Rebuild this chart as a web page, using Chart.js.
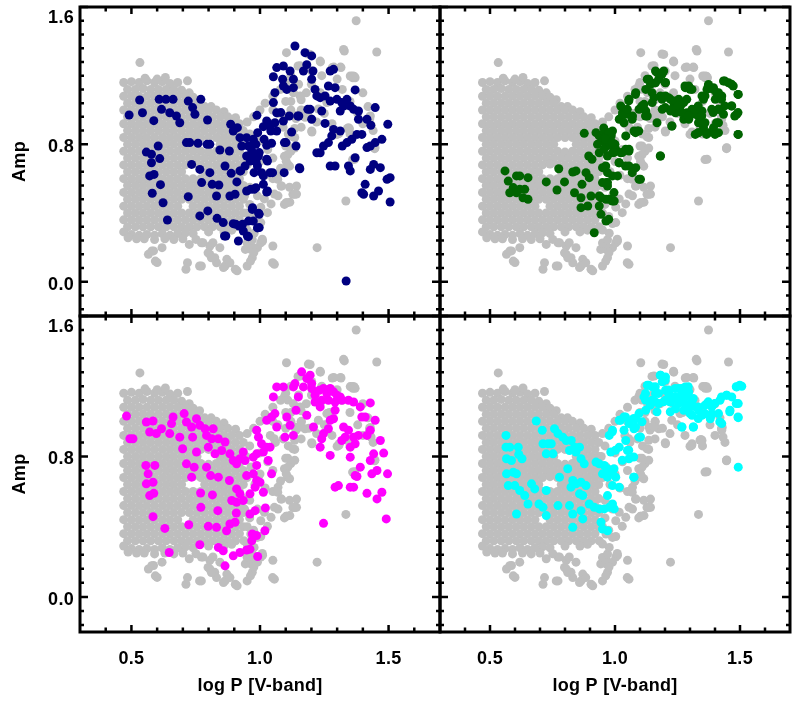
<!DOCTYPE html>
<html>
<head>
<meta charset="utf-8">
<script src="https://cdn.jsdelivr.net/npm/chart.js@4.4.1/dist/chart.umd.min.js"></script>
<style>
  html, body { margin: 0; padding: 0; background: #fff; overflow: hidden; }
  #wrap { position: relative; width: 802px; height: 702px; }
  #wrap canvas { position: absolute; left: 0; top: 0; }
</style>
</head>
<body>
<div id="wrap">
  <canvas id="pTL" width="802" height="702"></canvas>
  <canvas id="pTR" width="802" height="702"></canvas>
  <canvas id="pBL" width="802" height="702"></canvas>
  <canvas id="pBR" width="802" height="702"></canvas>
</div>
<script>
// axis ranges and tick marks
const xRange = [0.3, 1.7];
const yRange = [-0.2, 1.6];
const xMajorTicks = [0.5, 1.0, 1.5];
const xMinorTicks = [0.4, 0.6, 0.7, 0.8, 0.9, 1.1, 1.2, 1.3, 1.4, 1.6];
const yMajorTicks = [0.0, 0.8, 1.6];
const yMinorTicks = [-0.16, -0.08, 0.08, 0.16, 0.24, 0.32, 0.40, 0.48, 0.56, 0.64, 0.72,
                     0.88, 0.96, 1.04, 1.12, 1.20, 1.28, 1.36, 1.44, 1.52];
const xTickLabels = ['0.5', '1.0', '1.5'];
const yTickLabels = ['0.0', '0.8', '1.6'];
const xTitle = 'log P [V-band]';
const yTitle = 'Amp';

// full sample (grey, same in every panel) - [logP, amp]
const grayPts = [
  [0.47,1.16],[0.50,1.165],[0.53,1.16],[0.56,1.17],[0.59,1.16],[0.62,1.165],[0.65,1.155],[0.68,1.16],
  [0.553,1.185],[0.60,1.18],[0.632,1.19],[0.718,1.17],[0.533,1.276],
  [0.485,1.12],[0.515,1.12],[0.545,1.125],[0.575,1.12],[0.605,1.12],[0.635,1.12],[0.665,1.12],[0.695,1.115],[0.725,1.10],
  [0.47,1.08],[0.50,1.08],[0.53,1.08],[0.56,1.08],[0.59,1.08],[0.62,1.08],[0.65,1.08],[0.68,1.08],[0.71,1.08],[0.74,1.075],[0.765,1.06],
  [0.485,1.04],[0.515,1.04],[0.545,1.04],[0.575,1.04],[0.605,1.04],[0.635,1.04],[0.665,1.04],[0.695,1.04],[0.725,1.04],[0.755,1.04],[0.785,1.02],[0.81,1.02],
  [0.47,1.0],[0.50,1.0],[0.53,1.0],[0.56,1.0],[0.59,1.0],[0.62,1.0],[0.65,1.0],[0.68,1.0],[0.71,1.0],[0.74,1.0],[0.77,1.0],[0.80,1.0],[0.83,1.0],[0.86,0.99],
  [0.485,0.96],[0.515,0.96],[0.545,0.96],[0.575,0.96],[0.605,0.96],[0.635,0.96],[0.665,0.96],[0.695,0.96],[0.725,0.96],[0.755,0.96],[0.785,0.96],[0.815,0.96],[0.845,0.96],[0.875,0.96],[0.905,0.955],
  [0.47,0.92],[0.50,0.92],[0.53,0.92],[0.56,0.92],[0.59,0.92],[0.62,0.92],[0.65,0.92],[0.68,0.92],[0.71,0.92],[0.74,0.92],[0.77,0.92],[0.80,0.92],[0.83,0.92],[0.86,0.92],[0.89,0.92],[0.92,0.92],
  [0.485,0.88],[0.515,0.88],[0.545,0.88],[0.575,0.88],[0.605,0.88],[0.635,0.88],[0.665,0.88],[0.695,0.88],[0.725,0.88],[0.755,0.88],[0.785,0.88],[0.815,0.88],[0.845,0.88],[0.875,0.88],[0.905,0.88],[0.935,0.88],
  [0.47,0.84],[0.50,0.84],[0.53,0.84],[0.56,0.84],[0.59,0.84],[0.62,0.84],[0.65,0.84],[0.68,0.84],[0.71,0.84],[0.74,0.84],[0.77,0.84],[0.80,0.84],[0.83,0.84],[0.86,0.84],[0.89,0.84],[0.92,0.84],
  [0.485,0.80],[0.515,0.80],[0.545,0.80],[0.575,0.80],[0.605,0.80],[0.635,0.80],[0.665,0.80],[0.695,0.80],[0.725,0.80],[0.755,0.80],[0.845,0.80],[0.875,0.80],[0.905,0.80],[0.935,0.80],
  [0.47,0.76],[0.50,0.76],[0.53,0.76],[0.56,0.76],[0.59,0.76],[0.62,0.76],[0.65,0.76],[0.68,0.76],[0.71,0.76],[0.74,0.76],[0.77,0.76],[0.80,0.755],[0.83,0.76],[0.86,0.76],[0.89,0.76],[0.92,0.76],
  [0.485,0.72],[0.515,0.72],[0.545,0.72],[0.575,0.72],[0.605,0.72],[0.635,0.72],[0.665,0.72],[0.695,0.72],[0.725,0.72],[0.755,0.72],[0.785,0.72],[0.815,0.72],[0.845,0.72],[0.875,0.72],[0.905,0.72],[0.935,0.72],
  [0.47,0.68],[0.50,0.68],[0.53,0.68],[0.56,0.68],[0.59,0.68],[0.62,0.68],[0.65,0.68],[0.68,0.68],[0.71,0.68],[0.74,0.685],[0.77,0.68],[0.80,0.68],[0.83,0.68],[0.86,0.68],[0.89,0.68],[0.92,0.68],
  [0.485,0.64],[0.515,0.64],[0.545,0.64],[0.575,0.64],[0.605,0.64],[0.635,0.64],[0.665,0.64],[0.695,0.64],[0.785,0.64],[0.815,0.64],[0.845,0.64],[0.875,0.64],[0.905,0.64],[0.935,0.64],
  [0.47,0.60],[0.50,0.60],[0.53,0.60],[0.56,0.60],[0.59,0.60],[0.62,0.60],[0.65,0.60],[0.68,0.60],[0.71,0.60],[0.74,0.60],[0.77,0.60],[0.80,0.60],[0.83,0.60],[0.86,0.60],[0.89,0.60],[0.92,0.60],
  [0.485,0.56],[0.515,0.56],[0.545,0.56],[0.575,0.56],[0.605,0.56],[0.635,0.56],[0.665,0.56],[0.695,0.56],[0.725,0.56],[0.755,0.56],[0.785,0.56],[0.815,0.56],[0.845,0.56],[0.875,0.56],[0.905,0.56],[0.935,0.56],
  [0.47,0.52],[0.50,0.52],[0.53,0.52],[0.56,0.52],[0.59,0.52],[0.62,0.52],[0.65,0.52],[0.68,0.52],[0.71,0.52],[0.74,0.52],[0.77,0.52],[0.80,0.52],[0.83,0.52],[0.86,0.52],[0.89,0.52],[0.92,0.52],
  [0.485,0.48],[0.515,0.48],[0.545,0.48],[0.575,0.48],[0.605,0.48],[0.635,0.48],[0.665,0.48],[0.695,0.48],[0.725,0.48],[0.755,0.48],[0.785,0.48],[0.815,0.48],[0.845,0.48],[0.875,0.48],[0.905,0.48],[0.935,0.48],
  [0.47,0.44],[0.50,0.44],[0.53,0.44],[0.56,0.44],[0.59,0.44],[0.62,0.44],[0.65,0.44],[0.68,0.44],[0.74,0.44],[0.77,0.44],[0.80,0.44],[0.83,0.44],[0.86,0.44],[0.89,0.44],[0.92,0.44],
  [0.485,0.40],[0.515,0.40],[0.545,0.40],[0.575,0.40],[0.605,0.40],[0.635,0.40],[0.665,0.40],[0.695,0.40],[0.725,0.40],[0.755,0.40],[0.785,0.40],[0.815,0.40],[0.845,0.40],[0.875,0.40],[0.905,0.40],[0.935,0.40],
  [0.47,0.36],[0.50,0.36],[0.53,0.36],[0.56,0.36],[0.59,0.36],[0.62,0.36],[0.65,0.36],[0.68,0.36],[0.71,0.36],[0.74,0.36],[0.77,0.36],[0.80,0.36],[0.83,0.36],[0.86,0.36],[0.89,0.36],[0.92,0.36],
  [0.485,0.32],[0.515,0.32],[0.545,0.32],[0.575,0.32],[0.605,0.32],[0.635,0.32],[0.665,0.32],[0.695,0.32],[0.725,0.32],[0.755,0.32],[0.785,0.32],[0.815,0.32],[0.845,0.32],[0.875,0.32],[0.905,0.32],
  [0.47,0.29],[0.50,0.275],[0.53,0.27],[0.56,0.275],[0.59,0.27],[0.62,0.28],[0.65,0.27],[0.68,0.28],[0.71,0.285],[0.74,0.28],[0.80,0.29],[0.86,0.29],[0.89,0.30],
  [0.487,0.256],[0.52,0.25],[0.55,0.25],[0.59,0.245],[0.63,0.25],[0.665,0.245],[0.70,0.25],
  [0.566,0.159],[0.60,0.111],[0.586,0.179],[0.619,0.198],[0.725,0.217],[0.772,0.227],[0.805,0.208],[0.844,0.198],
  [0.871,0.13],[0.904,0.072],[0.95,0.091],[0.97,0.14],[0.99,0.198],[1.01,0.237],[0.964,0.188],[0.772,0.091],
  [0.712,0.072],[0.824,0.14],[0.805,0.159],[0.864,0.091],[1.056,0.101],[1.05,0.208],[0.579,0.178],[0.593,0.12],
  [0.718,0.11],[0.765,0.091],[0.751,0.246],[0.778,0.227],[0.817,0.227],[0.883,0.11],[0.943,0.188],[0.963,0.217],
  [1.003,0.227],[0.95,0.225],[0.97,0.244],[0.911,0.063],[0.858,0.082],[0.831,0.11],[0.811,0.139],[0.798,0.168],
  [1.374,1.52],[1.103,1.334],[1.195,1.324],[1.328,1.344],[1.454,1.338],[1.235,1.28],[1.281,1.247],[1.315,1.247],
  [1.156,1.258],[1.361,1.188],[1.447,0.78],[1.368,0.713],[1.334,0.47],[1.222,0.198],[1.201,0.878],[1.148,1.256],
  [1.201,1.227],[1.36,1.198],[1.234,1.101],[1.095,1.14],[1.135,0.84],[1.446,0.775],[1.325,1.353],[1.234,1.285],
  [1.351,1.198],[1.37,1.188],[1.344,0.897],[1.429,0.965],
  [0.95,0.93],[0.975,0.96],[1.0,1.0],[1.02,1.04],[1.05,1.08],[1.08,1.12],[1.10,1.16],[1.12,1.20],
  [1.10,1.05],[1.12,1.0],[1.14,0.95],[1.13,1.10],[1.07,0.98],[1.04,0.92],[1.06,0.88],[1.09,0.90],
  [1.11,0.86],[1.10,0.79],[1.12,0.76],[1.095,0.73],[1.107,0.683],[1.08,0.66],[1.05,0.72],[1.03,0.77],
  [1.0,0.82],[0.96,0.86],[0.945,0.80],[0.965,0.74],[0.95,0.68],[0.98,0.64],[1.0,0.70],[1.02,0.62],
  [1.05,0.60],[1.082,0.557],[1.115,0.55],[1.142,0.557],[1.142,0.51],[1.116,0.463],[1.102,0.46],[1.07,0.625],
  [1.07,0.50],[1.056,0.51],[1.043,0.453],[1.017,0.482],[1.003,0.434],[0.99,0.50],[0.96,0.55],[0.94,0.50],
  [0.96,0.45],[0.95,0.40],[0.975,0.38],[0.99,0.339],[0.977,0.282],[0.95,0.301],[0.964,0.358],[0.937,0.32],
  [1.009,0.247],[1.003,0.344],[1.029,0.402],[1.069,0.596],[1.095,0.45],[1.128,0.509],[1.049,0.11],[0.976,0.17],
  [0.963,0.12],[1.108,0.79],[1.115,0.673],[1.136,0.968],[1.175,0.958],[1.202,0.872],[1.308,0.872],[1.348,0.891],
  [1.427,0.949],[1.30,0.858],[1.35,0.86],[1.16,1.06],[1.18,1.10],[1.15,1.15],[1.20,1.15],[1.24,1.20],
  [1.30,1.18],[1.32,1.12],[1.27,1.05],[1.35,1.05],[1.40,1.10],[1.42,1.02],[1.38,0.98],[1.25,0.98],
  [1.22,0.93],[1.28,0.92],[1.40,0.92],[1.44,0.88],[1.16,1.00],[1.19,0.96],[1.16,0.90],[1.10,0.96],
  [1.05,1.00],[1.12,1.05],[1.156,1.082],[1.084,0.557],[1.136,0.509],[1.104,0.46],
  [1.188,1.326],[1.287,1.25],[1.313,1.25],[1.366,1.197],[1.108,1.121],[1.227,1.006],[1.26,1.044],[1.34,0.892],
  [1.307,0.863],[1.432,0.911],[1.426,0.959],[1.446,0.778],[1.36,0.711],[1.135,0.892],[1.128,0.844],[1.161,0.997],
  [1.155,0.968],[1.135,0.778],[1.108,0.739],[1.102,0.701],[1.055,0.901]
];

// subsample in top-left panel (navy)
const bluePts = [
  [0.491,0.971],[0.532,1.058],[0.543,0.984],[0.587,0.938],[0.608,1.062],[0.634,1.062],[0.662,1.062],[0.617,1.004],
  [0.649,0.984],[0.675,0.965],[0.688,0.926],[0.721,1.052],[0.738,1.014],[0.747,0.975],[0.77,1.062],[0.796,0.942],
  [0.558,0.755],[0.578,0.742],[0.604,0.79],[0.61,0.717],[0.578,0.693],[0.588,0.625],[0.571,0.616],[0.613,0.565],
  [0.581,0.515],[0.623,0.46],[0.64,0.359],[0.714,0.81],[0.727,0.81],[0.759,0.806],[0.794,0.80],[0.805,0.80],
  [0.734,0.683],[0.766,0.654],[0.773,0.577],[0.805,0.635],[0.844,0.767],[0.881,0.761],[0.814,0.567],[0.84,0.563],
  [0.864,0.674],[0.888,0.631],[0.91,0.581],[0.883,0.499],[0.903,0.509],[0.831,0.499],[0.721,0.495],[0.766,0.383],
  [0.797,0.412],[0.833,0.369],[0.857,0.344],[0.862,0.266],[0.916,0.237],[0.896,0.338],[0.919,0.324],[0.935,0.295],
  [0.955,0.262],[0.97,0.421],[0.974,0.353],[0.955,0.353],[0.99,0.313],[0.995,0.398],[0.886,0.917],[0.912,0.897],
  [0.896,0.878],[0.922,0.839],[0.948,0.839],[0.929,0.79],[0.955,0.79],[0.968,0.761],[0.948,0.732],[0.977,0.732],
  [0.994,0.732],[0.962,0.703],[0.985,0.697],[0.977,0.635],[1.006,0.635],[0.99,0.674],[1.026,0.713],[1.039,0.635],
  [1.013,0.616],[1.013,0.567],[0.977,0.538],[0.948,0.528],[1.026,0.522],[0.922,0.645],[0.942,0.674],[0.984,0.80],
  [0.974,0.829],[1.026,0.794],[0.991,0.868],[1.013,0.903],[1.026,0.936],[1.039,0.907],[0.988,0.969],[1.045,0.806],
  [1.065,0.878],[1.058,0.926],[1.065,0.984],[1.052,1.043],[1.058,1.101],[1.052,1.194],[1.065,1.247],[1.091,1.14],
  [1.088,1.179],[1.091,1.256],[1.117,1.227],[1.136,1.373],[1.13,1.179],[1.104,1.12],[1.13,1.13],[1.091,0.936],
  [1.114,0.965],[1.095,0.81],[1.094,0.635],[1.123,0.872],[1.14,0.79],[1.155,0.658],[1.151,0.965],[1.169,1.227],
  [1.175,1.334],[1.182,1.264],[1.201,1.315],[1.206,1.227],[1.201,1.179],[1.214,1.12],[1.221,1.082],[1.195,1.004],
  [1.201,0.946],[1.234,1.072],[1.24,0.994],[1.253,0.922],[1.273,1.227],[1.286,1.237],[1.266,1.14],[1.292,1.13],
  [1.253,1.082],[1.273,1.052],[1.299,1.062],[1.318,1.043],[1.312,0.994],[1.338,1.062],[1.325,1.023],[1.351,1.023],
  [1.37,1.117],[1.364,1.004],[1.383,0.994],[1.383,0.946],[1.416,0.946],[1.448,1.014],[1.431,0.911],[1.497,0.917],
  [1.286,0.887],[1.312,0.878],[1.279,0.849],[1.266,0.81],[1.247,0.79],[1.234,0.751],[1.221,0.751],[1.32,0.79],
  [1.338,0.81],[1.357,0.829],[1.377,0.858],[1.396,0.858],[1.416,0.781],[1.429,0.79],[1.448,0.81],[1.474,0.829],
  [1.37,0.722],[1.344,0.674],[1.351,0.645],[1.273,0.674],[1.292,0.674],[1.442,0.683],[1.429,0.654],[1.468,0.664],
  [1.409,0.567],[1.396,0.518],[1.403,0.509],[1.442,0.499],[1.461,0.528],[1.494,0.596],[1.506,0.606],[1.506,0.464],
  [1.335,0.004],
  [1.081,0.985],[1.147,0.965],[1.186,1.004],[1.042,0.878],[1.016,0.829],[1.101,0.81],[0.958,0.79],[0.997,0.752],
  [1.029,0.703],[0.925,0.645],[1.049,0.635],[1.153,0.664],[0.964,0.538],[0.984,0.547],[1.029,0.528],[0.971,0.431],
  [0.997,0.392],[0.906,0.334],[0.932,0.334],[0.997,0.315],[0.867,0.266],[0.951,0.266]
];

// subsample in top-right panel (dark green)
const greenPts = [
  [0.56,0.645],[0.573,0.586],[0.606,0.616],[0.619,0.616],[0.652,0.606],[0.593,0.548],[0.619,0.538],[0.639,0.538],
  [0.579,0.518],[0.606,0.518],[0.652,0.48],[0.632,0.489],[0.725,0.581],[0.775,0.658],[0.768,0.534],[0.798,0.581],
  [0.831,0.639],[0.844,0.645],[0.838,0.518],[0.868,0.567],[0.884,0.635],[0.877,0.864],[0.864,0.489],[0.897,0.606],
  [0.904,0.499],[0.864,0.431],[0.891,0.441],[0.895,0.732],[0.908,0.713],[0.917,0.285],[0.937,0.751],[0.924,0.868],
  [0.937,0.849],[0.957,0.868],[0.95,0.819],[0.977,0.868],[0.977,0.829],[0.99,0.878],[0.964,0.79],[0.99,0.79],
  [0.97,0.732],[0.99,0.751],[1.003,0.771],[0.95,0.664],[0.97,0.635],[0.99,0.616],[1.01,0.616],[0.966,0.577],
  [0.97,0.557],[0.944,0.489],[0.964,0.48],[0.977,0.48],[0.997,0.47],[0.937,0.441],[0.944,0.392],[0.964,0.353],
  [0.975,0.363],[0.937,0.499],[1.017,0.693],[1.023,0.751],[1.043,0.771],[1.056,0.761],[1.056,0.674],[1.083,0.664],
  [1.096,0.596],[1.043,0.849],[1.017,0.946],[1.03,0.984],[1.023,1.023],[1.056,1.062],[1.05,0.975],[1.07,0.965],
  [1.076,0.878],[1.089,0.878],[1.083,1.101],[1.096,1.004],[1.123,0.994],[1.116,1.033],[1.129,0.965],[1.123,1.12],
  [1.129,1.179],[1.142,1.149],[1.162,1.159],[1.162,1.227],[1.195,1.227],[1.156,1.072],[1.149,1.043],[1.182,1.082],
  [1.202,1.082],[1.202,1.159],[1.175,1.179],[1.222,1.062],[1.222,0.994],[1.235,1.043],[1.255,1.062],[1.262,1.023],
  [1.242,0.984],[1.228,0.907],[1.182,0.732],[1.189,1.004],[1.281,1.13],[1.295,1.14],[1.308,1.12],[1.275,1.043],
  [1.288,0.984],[1.275,0.946],[1.308,1.004],[1.321,0.975],[1.295,0.946],[1.334,0.965],[1.348,0.994],[1.354,1.062],
  [1.348,1.082],[1.374,1.149],[1.368,1.12],[1.394,1.13],[1.414,1.101],[1.401,1.062],[1.387,1.004],[1.414,1.004],
  [1.434,1.169],[1.454,1.159],[1.473,1.14],[1.427,1.082],[1.493,1.091],[1.467,1.023],[1.487,0.975],[1.493,0.858],
  [1.434,0.975],[1.414,0.926],[1.394,0.897],[1.374,0.868],[1.334,0.868],[1.321,0.858],[1.354,0.897],[1.414,0.868],
  [1.334,0.926],[0.96,0.84],[0.985,0.85],[0.955,0.895],[0.93,0.80],[1.0,0.80],
  [1.168,1.218],[1.188,1.208],[1.201,1.16],[1.135,1.179],[1.148,1.101],[1.082,1.091],[1.055,1.053],[1.049,1.004],
  [1.029,0.965],[1.036,0.926],[1.069,0.946],[1.108,1.023],[1.122,0.965],[1.168,0.926],[1.095,0.878],[1.082,0.868],
  [1.181,0.732],[1.227,0.907],[1.188,1.062],[1.214,1.072],[1.241,1.053],[1.201,1.014],[1.227,1.004],[1.254,1.024],
  [1.267,0.985],[1.294,0.965],[1.28,1.14],[1.30,1.121],[1.287,1.062],[1.32,1.004],[1.333,1.024],[1.347,0.965],
  [1.36,0.926],[1.333,0.868],[1.366,0.858],[1.40,0.858],[1.406,0.926],[1.393,0.985],[1.36,1.082],[1.373,1.14],
  [1.393,1.121],[1.406,1.101],[1.426,1.062],[1.439,1.169],[1.466,1.15],[1.492,1.091],[1.466,1.024],[1.479,0.965],
  [1.492,0.985],[1.492,0.858],[1.439,1.024],[1.413,1.004],[0.976,0.868],[0.963,0.829],[0.989,0.81],[0.956,0.771],
  [0.996,0.752],[1.029,0.752],[1.056,0.771],[1.016,0.693],[1.042,0.674],[1.069,0.635],[1.102,0.596],[0.963,0.674],
  [0.97,0.577],[0.996,0.519],[0.989,0.47],[0.95,0.577]
];

// subsample in bottom-left panel (magenta)
const magentaPts = [
  [0.481,1.03],[0.494,0.901],[0.506,0.901],[0.558,0.996],[0.584,1.002],[0.571,0.939],[0.597,0.93],[0.617,0.958],
  [0.656,0.987],[0.662,1.025],[0.649,0.93],[0.688,0.91],[0.705,1.044],[0.714,0.996],[0.734,0.968],[0.738,0.91],
  [0.753,1.015],[0.766,0.977],[0.786,0.958],[0.792,0.92],[0.818,0.958],[0.812,0.901],[0.838,0.901],[0.864,0.882],
  [0.851,0.834],[0.825,0.815],[0.799,0.853],[0.699,0.844],[0.753,0.825],[0.714,0.758],[0.744,0.739],[0.734,0.682],
  [0.792,0.739],[0.808,0.691],[0.838,0.682],[0.881,0.663],[0.883,0.815],[0.896,0.777],[0.909,0.758],[0.935,0.825],
  [0.942,0.777],[0.922,0.787],[0.948,0.691],[0.974,0.701],[0.987,0.663],[1.0,0.653],[0.987,0.749],[0.974,0.796],
  [0.987,0.815],[1.013,0.825],[1.026,0.853],[1.013,0.596],[0.981,0.625],[0.961,0.587],[0.909,0.615],[0.922,0.587],
  [0.89,0.549],[0.909,0.539],[0.935,0.549],[0.769,0.592],[0.815,0.581],[0.77,0.51],[0.836,0.491],[0.908,0.478],
  [0.961,0.472],[1.021,0.507],[0.981,0.491],[0.556,0.749],[0.565,0.701],[0.558,0.644],[0.584,0.653],[0.591,0.749],
  [0.571,0.577],[0.587,0.59],[0.584,0.457],[0.63,0.39],[0.647,0.253],[0.723,0.411],[0.766,0.297],[0.799,0.402],
  [0.831,0.396],[0.838,0.282],[0.857,0.263],[0.864,0.177],[0.87,0.377],[0.883,0.415],[0.903,0.425],[0.896,0.234],
  [0.922,0.253],[0.948,0.267],[0.961,0.272],[0.97,0.358],[0.991,0.23],[0.968,0.32],[0.987,0.349],[1.019,0.377],
  [0.987,0.949],[0.994,0.91],[1.006,0.872],[1.039,0.853],[1.032,0.777],[1.045,0.701],[1.052,1.139],[1.026,1.006],
  [1.045,1.025],[1.065,1.196],[1.058,1.044],[1.065,0.968],[1.091,1.196],[1.104,1.025],[1.097,0.91],[1.117,0.977],
  [1.13,0.92],[1.13,1.196],[1.136,1.215],[1.14,1.063],[1.149,1.139],[1.169,1.196],[1.182,1.244],[1.162,1.282],
  [1.195,1.263],[1.201,1.215],[1.182,1.034],[1.201,1.187],[1.214,1.149],[1.231,1.177],[1.214,1.11],[1.234,1.082],
  [1.247,1.187],[1.26,1.158],[1.273,1.187],[1.286,1.168],[1.299,1.149],[1.24,1.12],[1.266,1.12],[1.292,1.11],
  [1.312,1.139],[1.318,1.12],[1.344,1.12],[1.364,1.11],[1.39,1.082],[1.429,1.105],[1.208,0.968],[1.247,0.93],
  [1.266,0.958],[1.286,1.015],[1.273,1.006],[1.292,1.063],[1.24,0.901],[1.234,0.853],[1.273,0.806],[1.325,0.968],
  [1.344,0.949],[1.318,0.891],[1.331,0.91],[1.364,0.91],[1.351,0.853],[1.37,0.872],[1.383,0.92],[1.409,1.025],
  [1.396,1.025],[1.429,0.949],[1.416,0.92],[1.448,1.006],[1.468,0.891],[1.351,0.796],[1.39,0.739],[1.37,0.691],
  [1.377,0.686],[1.292,0.625],[1.305,0.634],[1.351,0.625],[1.364,0.625],[1.416,0.59],[1.429,0.777],[1.442,0.815],
  [1.435,0.701],[1.455,0.72],[1.474,0.596],[1.455,0.558],[1.481,0.819],[1.496,0.701],[1.491,0.444],[1.247,0.419]
];

// subsample in bottom-right panel (cyan)
const cyanPts = [
  [0.564,0.92],[0.564,0.853],[0.579,0.853],[0.566,0.787],[0.586,0.777],[0.613,0.853],[0.615,0.811],[0.628,0.787],
  [0.566,0.701],[0.593,0.71],[0.606,0.701],[0.573,0.634],[0.599,0.634],[0.619,0.606],[0.639,0.577],[0.652,0.529],
  [0.606,0.472],[0.666,0.644],[0.679,0.615],[0.685,1.002],[0.709,0.949],[0.712,0.872],[0.732,0.872],[0.745,0.872],
  [0.725,0.815],[0.752,0.815],[0.758,0.958],[0.772,0.93],[0.791,0.91],[0.805,0.891],[0.825,0.891],[0.838,0.853],
  [0.858,0.853],[0.818,0.834],[0.844,0.825],[0.864,0.787],[0.877,0.758],[0.811,0.73],[0.778,0.682],[0.831,0.663],
  [0.844,0.644],[0.864,0.653],[0.884,0.634],[0.824,0.625],[0.858,0.587],[0.871,0.577],[0.725,0.606],[0.696,0.529],
  [0.712,0.51],[0.725,0.463],[0.772,0.52],[0.818,0.52],[0.831,0.472],[0.831,0.396],[0.864,0.491],[0.871,0.444],
  [0.897,0.529],[0.917,0.51],[0.937,0.501],[0.957,0.501],[0.977,0.51],[0.997,0.501],[0.99,0.529],[0.944,0.425],
  [0.95,0.387],[0.97,0.377],[0.97,0.577],[0.924,0.768],[0.937,0.758],[0.957,0.749],[0.97,0.73],[0.95,0.701],
  [0.97,0.682],[0.99,0.701],[1.003,0.682],[0.99,0.634],[1.017,0.625],[0.983,0.825],[1.017,0.853],[1.05,0.834],
  [1.056,0.787],[1.076,0.682],[1.043,0.891],[0.977,0.92],[0.99,0.949],[1.017,1.006],[1.036,1.025],[1.056,0.987],
  [1.076,0.958],[1.096,0.91],[1.083,1.015],[1.096,1.044],[1.123,1.063],[1.116,1.139],[1.129,1.206],[1.149,1.196],
  [1.162,1.158],[1.182,1.263],[1.202,1.253],[1.189,1.225],[1.202,1.177],[1.215,1.158],[1.202,1.12],[1.175,1.101],
  [1.222,1.11],[1.242,1.139],[1.255,1.187],[1.281,1.196],[1.295,1.168],[1.268,1.12],[1.281,1.139],[1.308,1.12],
  [1.242,1.072],[1.275,1.063],[1.295,1.082],[1.321,1.082],[1.308,1.034],[1.334,1.063],[1.348,1.034],[1.368,1.101],
  [1.387,1.082],[1.387,1.044],[1.414,1.044],[1.42,1.12],[1.447,1.149],[1.467,1.139],[1.487,1.196],[1.507,1.20],
  [1.46,1.063],[1.493,1.101],[1.493,1.021],[1.427,0.987],[1.381,1.015],[1.493,0.739],[1.268,0.968],[1.314,0.968],
  [1.149,1.12],[1.268,1.158],
  [1.181,1.263],[1.201,1.235],[1.135,1.206],[1.161,1.197],[1.122,1.159],[1.174,1.159],[1.214,1.178],[1.241,1.187],
  [1.267,1.187],[1.293,1.197],[1.234,1.139],[1.26,1.139],[1.287,1.149],[1.313,1.13],[1.194,1.111],[1.221,1.111],
  [1.254,1.101],[1.28,1.101],[1.307,1.092],[1.333,1.082],[1.36,1.092],[1.373,1.111],[1.399,1.101],[1.426,1.139],
  [1.446,1.149],[1.485,1.197],[1.499,1.206],[1.485,1.101],[1.459,1.054],[1.492,1.025],[1.419,0.997],[1.386,1.035],
  [1.36,1.044],[1.333,1.016],[1.313,0.968],[1.267,0.968],[1.30,1.044],[1.221,1.054],[1.161,1.111],[1.141,1.092],
  [1.122,1.121],[1.168,1.054],[1.108,0.997],[1.075,1.016],[1.042,1.025],[1.022,1.006],[1.082,0.968],[1.102,0.911],
  [1.055,0.835],[1.002,0.835],[0.989,0.94],[1.036,0.949],[1.029,0.778],[1.075,0.797],[0.996,0.73],[1.075,0.682]
];

const toXY = pts => pts.map(p => ({ x: p[0], y: p[1] }));

// frame, inward ticks on all four sides, tick labels and axis titles
const framePlugin = {
  id: 'frame',
  afterDatasetsDraw(chart, args, opts) {
    const { ctx, chartArea: a, scales: { x, y } } = chart;
    ctx.save();
    ctx.strokeStyle = '#000';
    ctx.lineWidth = 2.5;
    ctx.beginPath();
    const xTick = (v, len) => {
      const p = x.getPixelForValue(v);
      ctx.moveTo(p, a.bottom); ctx.lineTo(p, a.bottom - len);
      ctx.moveTo(p, a.top); ctx.lineTo(p, a.top + len);
    };
    const yTick = (v, len) => {
      const p = y.getPixelForValue(v);
      ctx.moveTo(a.left, p); ctx.lineTo(a.left + len, p);
      ctx.moveTo(a.right, p); ctx.lineTo(a.right - len, p);
    };
    xMajorTicks.forEach(v => xTick(v, 7));
    xMinorTicks.forEach(v => xTick(v, 4.5));
    yMajorTicks.forEach(v => yTick(v, 8));
    yMinorTicks.forEach(v => yTick(v, 4));
    ctx.stroke();
    ctx.lineWidth = 3;
    ctx.strokeRect(a.left, a.top, a.right - a.left, a.bottom - a.top);

    const font = 'bold 18px "Liberation Sans", Arial, sans-serif';
    ctx.fillStyle = '#000';
    ctx.letterSpacing = '0.3px';
    ctx.textBaseline = 'middle';
    ctx.font = font;
    if (opts.showY) {
      ctx.textAlign = 'right';
      yMajorTicks.forEach((v, i) => {
        const off = v === yRange[1] ? 11 : 3;
        ctx.fillText(yTickLabels[i], a.left - 6, y.getPixelForValue(v) + off);
      });
      ctx.save();
      ctx.translate(20, (a.top + a.bottom) / 2);
      ctx.rotate(-Math.PI / 2);
      ctx.textAlign = 'center';
      ctx.fillText(yTitle, 0, 0);
      ctx.restore();
    }
    if (opts.showX) {
      ctx.textAlign = 'center';
      xMajorTicks.forEach((v, i) => {
        ctx.fillText(xTickLabels[i], x.getPixelForValue(v), a.bottom + 27);
      });
      ctx.fillText(xTitle, (a.left + a.right) / 2, a.bottom + 54);
    }
    ctx.restore();
  }
};

function makePanel(id, pts, color, pad, showX, showY) {
  new Chart(document.getElementById(id), {
    type: 'scatter',
    data: {
      datasets: [
        { data: toXY(pts), pointBackgroundColor: color, pointRadius: 4.5, pointBorderWidth: 0, order: 0 },
        { data: toXY(grayPts), pointBackgroundColor: '#bebebe', pointRadius: 4.5, pointBorderWidth: 0, order: 1 }
      ]
    },
    options: {
      responsive: false,
      animation: false,
      devicePixelRatio: 1,
      events: [],
      layout: { padding: pad },
      scales: {
        x: { type: 'linear', min: xRange[0], max: xRange[1], display: false },
        y: { type: 'linear', min: yRange[0], max: yRange[1], display: false }
      },
      plugins: {
        legend: { display: false },
        tooltip: { enabled: false },
        frame: { showX, showY }
      }
    },
    plugins: [framePlugin]
  });
}

makePanel('pTL', bluePts, '#000080', { left: 80, top: 7, right: 362, bottom: 386 }, false, true);
makePanel('pTR', greenPts, '#006400', { left: 440, top: 7, right: 12, bottom: 386 }, false, false);
makePanel('pBL', magentaPts, '#ff00ff', { left: 80, top: 316, right: 362, bottom: 70 }, true, true);
makePanel('pBR', cyanPts, '#00ffff', { left: 440, top: 316, right: 12, bottom: 70 }, true, false);
</script>
</body>
</html>
